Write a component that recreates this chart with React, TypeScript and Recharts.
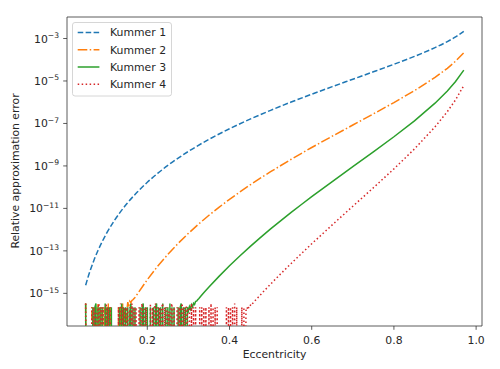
import React from 'react';
import { LineChart, Line, XAxis, YAxis, ReferenceArea } from 'recharts';

const W = 500;
const H = 369;
const FONT = 'DejaVu Sans, Liberation Sans, sans-serif';
const TEXT = '#262626';
const AXIS = '#333333';

// axes
const xTicks = [0.2, 0.4, 0.6, 0.8, 1.0];
const yTicks = [1e-15, 1e-13, 1e-11, 1e-9, 1e-7, 1e-5, 1e-3];
const xDomain = [0.0046, 1.0143];
const yDomain = [2.9e-17, 1.03e-2];
const xLabel = 'Eccentricity';
const yLabel = 'Relative approximation error';

// series
const seriesNames = ['Kummer 1', 'Kummer 2', 'Kummer 3', 'Kummer 4'];
const seriesColors = ['#1f77b4', '#ff7f0e', '#2ca02c', '#d62728'];
const seriesDashes = ['5.55 2.4', '9.6 2.4 1.5 2.4', undefined, '1.5 2.475'];

// round-off floor: sampled every 0.0025 from 0.05; digit = level index (0 = exact, below axis)
const noiseStart = 0.05;
const noiseStep = 0.0025;
const noiseLevels = [0, 1.4e-16, 2.2e-16, 3.3e-16];

const k2Noise = ['3', '00000', '20202030202020203020', '000000', '20203020'].join('');
const k3Noise = [
  '3', '00000', '02023020202003020202', '000000', '020302020201302020', '00',
  '020230202', '00', '2', '0', '0202302020', '3', '0', '02020302020', '0', '02023020202',
].join('');
const k4Noise = [
  '3', '00000', '20201023020200302020', '000000', '203020202102030202', '00',
  '202302020', '00', '3', '0', '2023020202', '3', '0', '20201023020', '0', '2020230202',
  '2020302020', '00', '2020202', '00', '203020202', '00000000', '20202', '0', '20302', '0000', '2020',
].join('');

// smooth parts
const k1X = [0.05, 0.055, 0.06, 0.07, 0.08, 0.09, 0.1, 0.12, 0.15, 0.175, 0.2, 0.225, 0.25, 0.3, 0.35, 0.4, 0.45, 0.5, 0.55, 0.6, 0.65, 0.7, 0.75, 0.8, 0.85, 0.9, 0.93, 0.95, 0.97];
const k1Y = [2.40e-15, 5.14e-15, 1.03e-14, 3.56e-14, 1.04e-13, 2.67e-13, 6.22e-13, 2.70e-12, 1.64e-11, 5.71e-11, 1.69e-10, 4.45e-10, 1.06e-9, 4.83e-9, 1.78e-8, 5.62e-8, 1.59e-7, 4.15e-7, 1.02e-6, 2.38e-6, 5.41e-6, 1.21e-5, 2.70e-5, 6.11e-5, 1.44e-4, 3.73e-4, 7.18e-4, 1.19e-3, 2.18e-3];

const k2X = [0.15, 0.1525, 0.155, 0.1575, 0.16, 0.1625, 0.165, 0.17, 0.175, 0.2, 0.225, 0.25, 0.275, 0.3, 0.325, 0.35, 0.375, 0.4, 0.425, 0.45, 0.475, 0.5, 0.55, 0.6, 0.65, 0.7, 0.75, 0.8, 0.85, 0.9, 0.93, 0.95, 0.97];
const k2Y = [1.3e-16, 3.9e-16, 2.2e-16, 4.2e-16, 3.6e-16, 4.6e-16, 5.0e-16, 6.4e-16, 8.8e-16, 4.42e-15, 1.88e-14, 6.89e-14, 2.25e-13, 6.70e-13, 1.84e-12, 4.74e-12, 1.15e-11, 2.67e-11, 5.93e-11, 1.27e-10, 2.64e-10, 5.35e-10, 2.06e-9, 7.36e-9, 2.52e-8, 8.43e-8, 2.82e-7, 9.64e-7, 3.52e-6, 1.47e-5, 3.96e-5, 8.51e-5, 2.14e-4];

const k3X = [0.3, 0.3025, 0.305, 0.3075, 0.31, 0.3125, 0.315, 0.3175, 0.32, 0.3225, 0.325, 0.33, 0.34, 0.35, 0.375, 0.4, 0.425, 0.45, 0.475, 0.5, 0.525, 0.55, 0.575, 0.6, 0.65, 0.7, 0.75, 0.8, 0.85, 0.9, 0.93, 0.95, 0.97];
const k3Y = [1.5e-16, 2.4e-16, 1.8e-16, 2.9e-16, 2.3e-16, 3.4e-16, 3.0e-16, 4.2e-16, 4.3e-16, 5.0e-16, 5.6e-16, 7.3e-16, 1.21e-15, 1.98e-15, 6.46e-15, 1.98e-14, 5.74e-14, 1.58e-13, 4.21e-13, 1.08e-12, 2.68e-12, 6.49e-12, 1.53e-11, 3.56e-11, 1.84e-10, 9.18e-10, 4.58e-9, 2.37e-8, 1.33e-7, 9.03e-7, 3.39e-6, 9.42e-6, 3.24e-5];

const k4X = [0.44, 0.4425, 0.445, 0.4475, 0.45, 0.4525, 0.455, 0.46, 0.47, 0.48, 0.5, 0.525, 0.55, 0.575, 0.6, 0.65, 0.7, 0.75, 0.8, 0.85, 0.9, 0.93, 0.95, 0.97];
const k4Y = [1.5e-16, 2.2e-16, 1.7e-16, 2.6e-16, 2.5e-16, 3.3e-16, 3.1e-16, 4.06e-16, 6.6e-16, 1.07e-15, 2.73e-15, 8.48e-15, 2.56e-14, 7.52e-14, 2.15e-13, 1.68e-12, 1.26e-11, 9.35e-11, 7.28e-10, 6.32e-9, 6.91e-8, 3.61e-7, 1.30e-6, 6.08e-6];

// exact zeros cannot sit on a log axis: draw them far below the visible range
const BELOW = 1e-30;
const pts = (xs: number[], ys: number[]) => xs.map((x, i) => ({ x, y: ys[i] > 0 ? ys[i] : BELOW }));
const noisePts = (p: string) =>
  p.split('').map((c, i) => {
    const v = noiseLevels[Number(c)];
    return { x: +(noiseStart + i * noiseStep).toFixed(4), y: v > 0 ? v : BELOW };
  });

const seriesData = [
  pts(k1X, k1Y),
  [...noisePts(k2Noise), ...pts(k2X, k2Y)],
  [...noisePts(k3Noise), ...pts(k3X, k3Y)],
  [...noisePts(k4Noise), ...pts(k4X, k4Y)],
];
const seriesCurve = ['monotone', 'linear', 'linear', 'linear'];

const XTick = (props: any) => {
  const { x, y, payload } = props;
  return (
    <text x={x} y={y + 13.8} textAnchor="middle" fontSize={10.85} fontFamily={FONT} fill={TEXT}>
      {Number(payload.value).toFixed(1)}
    </text>
  );
};

const YTick = (props: any) => {
  const { x, y, payload } = props;
  const exp = Math.round(Math.log10(payload.value));
  return (
    <text x={x - 4.2} y={y + 4} textAnchor="end" fontSize={10.85} fontFamily={FONT} fill={TEXT}>
      <tspan>10</tspan>
      <tspan dy={-4.6} fontSize={7.6}>{(exp < 0 ? '\u2212' : '') + Math.abs(exp)}</tspan>
    </text>
  );
};

const legendRows = [32.4, 49.7, 67.0, 84.3];

export default function App() {
  return (
    <div style={{ position: 'absolute', left: 0, top: 0, width: W, height: H, background: '#fff' }}>
      <LineChart width={W} height={H} margin={{ top: 17, right: 18, bottom: 0, left: 0 }}>
        <XAxis
          dataKey="x"
          type="number"
          domain={xDomain}
          allowDataOverflow
          ticks={xTicks}
          tick={<XTick />}
          tickSize={3.8}
          tickMargin={0}
          axisLine={false}
          tickLine={{ stroke: AXIS, strokeWidth: 0.8 }}
          height={43}
          interval={0}
        />
        <YAxis
          type="number"
          scale="log"
          domain={yDomain}
          allowDataOverflow
          ticks={yTicks}
          tick={<YTick />}
          tickSize={3.8}
          tickMargin={0}
          axisLine={false}
          tickLine={{ stroke: AXIS, strokeWidth: 0.8 }}
          width={67}
          interval={0}
        />
        {seriesData.map((d, i) => (
          <Line
            key={seriesNames[i]}
            name={seriesNames[i]}
            data={d}
            dataKey="y"
            type={seriesCurve[i] as any}
            stroke={seriesColors[i]}
            strokeWidth={1.5}
            strokeDasharray={seriesDashes[i]}
            dot={false}
            activeDot={false}
            isAnimationActive={false}
          />
        ))}
        <ReferenceArea
          x1={xDomain[0]}
          x2={xDomain[1]}
          y1={yDomain[0]}
          y2={yDomain[1]}
          fill="none"
          fillOpacity={0}
          stroke={AXIS}
          strokeWidth={0.8}
          ifOverflow="visible"
        />
      </LineChart>
      <svg
        width={W}
        height={H}
        style={{ position: 'absolute', left: 0, top: 0, pointerEvents: 'none' }}
      >
        <text
          transform={`translate(19,171) rotate(-90)`}
          textAnchor="middle"
          fontSize={10.85}
          fontFamily={FONT}
          fill={TEXT}
        >
          {yLabel}
        </text>
        <text x={274.5} y={358} textAnchor="middle" fontSize={10.85} fontFamily={FONT} fill={TEXT}>
          {xLabel}
        </text>
        <rect x={72.5} y={22.5} width={99} height={73.5} rx={2.5} fill="#fff" fillOpacity={0.8} stroke="#cccccc" strokeWidth={0.8} />
        {seriesNames.map((n, i) => (
          <g key={n}>
            <line
              x1={77.7}
              x2={99.4}
              y1={legendRows[i]}
              y2={legendRows[i]}
              stroke={seriesColors[i]}
              strokeWidth={1.5}
              strokeDasharray={seriesDashes[i]}
            />
            <text x={110} y={legendRows[i] + 3.9} fontSize={10.85} fontFamily={FONT} fill={TEXT}>
              {n}
            </text>
          </g>
        ))}
      </svg>
    </div>
  );
}
